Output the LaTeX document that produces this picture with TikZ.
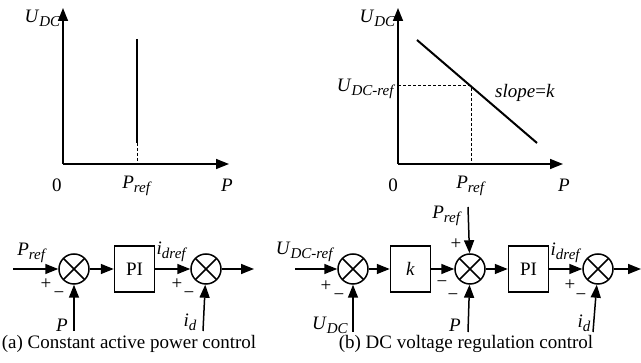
\documentclass[tikz,border=0pt]{standalone}
\usepackage{fontspec}
\setmainfont{Liberation Serif}
\usetikzlibrary{arrows.meta,positioning}

\newcommand{\isub}[2]{\textit{#1}\raisebox{-4pt}{\fontsize{15}{15}\selectfont\textit{#2}}}

\begin{document}
\begin{tikzpicture}[
		x=1pt,y=-1pt,
		line width=1.5pt,
		font=\fontsize{19}{22}\selectfont,
		>={Triangle[length=13pt,width=10pt]},
		every node/.style={
			inner sep=1pt
		},
		sumnode/.style={
			draw,
			circle,
			minimum size=30pt,
			inner sep=0pt,
			path picture={
				\draw (path picture bounding box.north west)--(path picture bounding box.south east)
				(path picture bounding box.north east)--(path picture bounding box.south west);
			}
		},
		blockbox/.style={
			draw,
			minimum width=40pt,
			minimum height=46pt
		},
		guide/.style={
			dashed,
			line width=1pt,
			dash pattern=on 3pt off 2pt
		}
		]
		
		\useasboundingbox (0,0) rectangle (641,363);
		
		% left characteristic
		\coordinate (o1) at (63,164);
		\coordinate (ya) at (63,8);
		\coordinate (xa) at (229,164);
		\coordinate (va) at (137,39);
		\coordinate (vb) at (137,143);
		\coordinate (vc) at (137,164);
		
		\draw[->] (o1)--(ya);
		\draw[->] (o1)--(xa);
		\draw[line width=2pt] (va)--(vb);
		\draw[guide] (vb)--(vc);
		
		\node[anchor=east] (u1) at (62,18) {\isub{U}{DC}};
		\node (z1) at (57,185) {0};
		\node (p1) at (137,186) {\isub{P}{ref}};
		\node (pp1) at (227,185) {\textit{P}};
		
		% right characteristic
		\coordinate (o2) at (398,164);
		\coordinate (yb) at (398,8);
		\coordinate (xb) at (563,164);
		\coordinate (sa) at (417,40);
		\coordinate (sb) at (537,143);
		\coordinate (op) at (471,86);
		\coordinate (oy) at (398,86);
		\coordinate (ox) at (471,164);
		
		\draw[->] (o2)--(yb);
		\draw[->] (o2)--(xb);
		\draw[line width=2pt] (sa)--(sb);
		\draw[guide] (oy)--(op)--(ox);
		
		\node[anchor=east] (u2) at (397,18) {\isub{U}{DC}};
		\node[anchor=east] (uref) at (397,89) {\isub{U}{DC-ref}};
		\node (slope) at (525,93) {\textit{slope}=\textit{k}};
		\node (z2) at (393,185) {0};
		\node (p2) at (471,186) {\isub{P}{ref}};
		\node (pp2) at (564,185) {\textit{P}};
		
		% (a) constant active power control
		\node[sumnode] (s1) at (74,269) {};
		\node[blockbox,right=24pt of s1] (pi1) {PI};
		\node[sumnode,right=35pt of pi1] (s2) {};
		\coordinate (in1) at (13,269);
		\coordinate (out1) at (254,269);
		\coordinate (f1) at (74,331);
		\coordinate (f2) at (203,331);
		
		\draw[->] (in1)--(s1);
		\draw[->] (s1)--(pi1);
		\draw[->] (pi1)--(s2);
		\draw[->] (s2)--(out1);
		\draw[->] (f1)--(s1);
		\draw[->] (f2)--(s2);
		
		\node (la1) at (32,253) {\isub{P}{ref}};
		\node (pl1) at (46,284) {+};
		\node (mi1) at (59,295) {−};
		\node (la2) at (62,325) {\textit{P}};
		\node (la3) at (172,252) {\isub{i}{dref}};
		\node (pl2) at (177,284) {+};
		\node (mi2) at (189,295) {−};
		\node (la4) at (190,322) {\isub{i}{d}};
		\node[anchor=base] (capa) at (129,349) {(a) Constant active power control};
		
		% (b) dc voltage regulation control
		\node[sumnode] (s3) at (353,269) {};
		\node[blockbox,right=21pt of s3] (kb) {\textit{k}};
		\node[sumnode,right=23pt of kb] (s4) {};
		\node[blockbox,right=22pt of s4] (pi2) {PI};
		\node[sumnode,right=33pt of pi2] (s5) {};
		\coordinate (in2) at (295,269);
		\coordinate (out2) at (641,269);
		\coordinate (f3) at (353,332);
		\coordinate (f4) at (468,207);
		\coordinate (f5) at (468,332);
		\coordinate (f6) at (593,332);
		
		\draw[->] (in2)--(s3);
		\draw[->] (s3)--(kb);
		\draw[->] (kb)--(s4);
		\draw[->] (s4)--(pi2);
		\draw[->] (pi2)--(s5);
		\draw[->] (s5)--(out2);
		\draw[->] (f3)--(s3);
		\draw[->] (f4)--(s4);
		\draw[->] (f5)--(s4);
		\draw[->] (f6)--(s5);
		
		\node (lb1) at (305,252) {\isub{U}{DC-ref}};
		\node (pl3) at (326,286) {+};
		\node (mi3) at (339,297) {−};
		\node (lb2) at (330,325) {\isub{U}{DC}};
		\node (lb3) at (447,216) {\isub{P}{ref}};
		\node (pl4) at (456,244) {+};
		\node (mi4) at (442,284) {−};
		\node (mi5) at (453,297) {−};
		\node (lb4) at (455,325) {\textit{P}};
		\node (lb5) at (566,253) {\isub{i}{dref}};
		\node (pl5) at (570,285) {+};
		\node (mi6) at (581,297) {−};
		\node (lb6) at (584,323) {\isub{i}{d}};
		\node[anchor=base] (capb) at (466,349) {(b) DC voltage regulation control};
		
	\end{tikzpicture}
\end{document}
